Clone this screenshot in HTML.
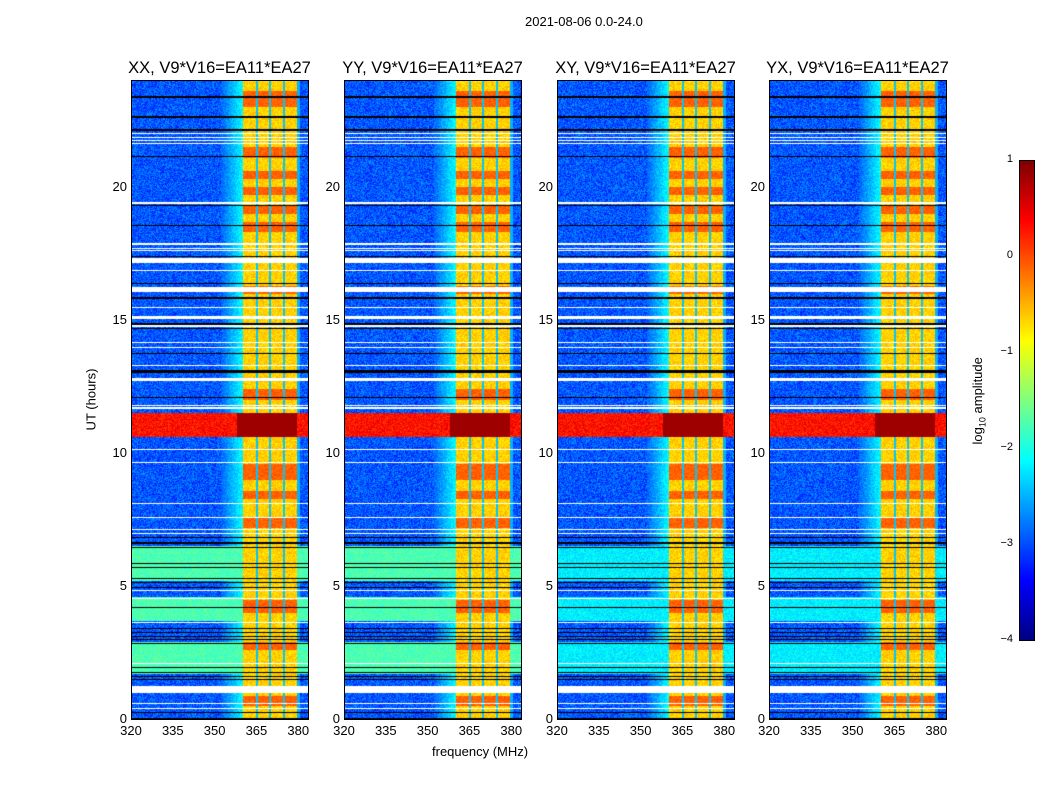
<!DOCTYPE html>
<html><head><meta charset="utf-8">
<style>
body{margin:0;background:#fff;font-family:"Liberation Sans",sans-serif;}
#root{position:relative;width:1050px;height:800px;overflow:hidden;background:#fff}
.t{position:absolute;font-size:13px;color:#000;white-space:nowrap}
canvas{position:absolute}
.frame{position:absolute;border:1px solid #000;box-sizing:border-box}
</style></head><body>
<div id="root">
<div class="t" style="left:525px;top:14px">2021-08-06 0.0-24.0</div>
<div class="t" style="left:432px;top:744px">frequency (MHz)</div>
<div class="t" style="left:60px;top:392px;transform:rotate(-90deg);transform-origin:center">UT (hours)</div>
<div class="t" style="left:935px;top:392px;transform:rotate(-90deg);transform-origin:center">log<sub style="font-size:9px">10</sub> amplitude</div>
</div>
<script>
const panelTitles=["XX, V9*V16=EA11*EA27","YY, V9*V16=EA11*EA27","XY, V9*V16=EA11*EA27","YX, V9*V16=EA11*EA27"];
const xTicks=[320,335,350,365,380];
const yTicks=[0,5,10,15,20];
const cbTicks=[1,0,-1,-2,-3,-4];
const rfiBand=[360,379.3];
const rfiGaps=[364.9,369.6,374.6];
const redBand=[10.6,11.5];
const greenRegions=[[1.7,2.9],[3.7,4.6],[5.2,6.5]];
const greenLevel=[0.45,0.45,0.36,0.36];
const whiteFlags=[[21.98,22.02],[21.83,21.87],[21.74,21.78],[21.63,21.67],[19.38,19.42],[17.84,17.88],[17.68,17.72],[17.58,17.62],[17.15,17.32],[16.86,16.9],[16.06,16.25],[15.44,15.48],[15.05,15.15],[14.76,14.8],[14.13,14.17],[13.94,13.98],[13.26,13.3],[12.72,12.83],[11.76,11.8],[11.68,11.72],[10.11,10.15],[9.62,9.66],[8.08,8.12],[7.56,7.6],[7.11,7.15],[6.96,7.0],[4.82,4.86],[4.52,4.56],[3.62,3.66],[2.08,2.12],[0.98,1.24],[0.58,0.62],[0.39,0.43]];
const blackFlags=[[23.36,23.4],[22.61,22.65],[22.12,22.16],[21.11,21.15],[19.27,19.31],[18.55,18.59],[17.38,17.42],[16.34,16.38],[15.81,15.85],[14.82,14.9],[14.65,14.69],[13.71,13.75],[13.02,13.13],[12.06,12.1],[6.81,6.85],[6.61,6.65],[6.43,6.47],[5.83,5.87],[5.68,5.72],[5.28,5.32],[5.11,5.15],[4.93,4.97],[4.18,4.22],[3.39,3.43],[3.26,3.3],[3.11,3.15],[2.97,3.01],[2.83,2.87],[1.93,1.97],[1.76,1.8],[1.61,1.65],[1.47,1.51],[0.24,0.28],[0.0,0.06]];
const orangeHours=[[23.0,23.6],[21.1,21.5],[20.3,20.6],[19.7,20.0],[19.0,19.3],[18.3,18.7],[16.0,16.3],[12.0,12.4],[9.0,9.6],[8.3,8.6],[7.2,7.6],[4.0,4.5],[2.6,2.9],[0.5,0.9]];

const root=document.getElementById('root');
const PX=[131,344,557,769],PT=80,PW=177,PH=639;
const fMin=320,fMax=383.5,tMax=24;
const xs=f=>(f-fMin)/(fMax-fMin)*PW;
const ys=t=>PH-t/tMax*PH;
function jet(v){v=Math.max(0,Math.min(1,v));
 const r=Math.max(0,Math.min(1,1.5-Math.abs(4*v-3)));
 const g=Math.max(0,Math.min(1,1.5-Math.abs(4*v-2)));
 const b=Math.max(0,Math.min(1,1.5-Math.abs(4*v-1)));
 return [r*255|0,g*255|0,b*255|0];}
function hash(a,b){let h=(a*374761393+b*668265263)|0;h=(h^(h>>>13))*1274126177|0;return ((h^(h>>>16))>>>0)/4294967296;}
const inAny=(t,arr)=>arr.some(r=>t>=r[0]&&t<=r[1]);

PX.forEach((px,p)=>{
 const c=document.createElement('canvas');c.width=PW;c.height=PH;
 c.style.left=px+'px';c.style.top=PT+'px';
 
 
 root.appendChild(c);
 const ctx=c.getContext('2d');const img=ctx.createImageData(PW,PH);
 for(let y=0;y<PH;y++){const t=(PH-y)/PH*tMax;
  const white=inAny(t,whiteFlags),black=inAny(t,blackFlags);
  const orange=inAny(t,orangeHours),red=t>=redBand[0]&&t<=redBand[1];
  let gl=null;greenRegions.forEach(r=>{if(t>=r[0]&&t<=r[1])gl=greenLevel[p];});
  for(let x=0;x<PW;x++){const f=fMin+x/PW*(fMax-fMin);
   const n=hash(x+p*1000,y);let v;
   if(gl!==null)v=gl+(n-0.5)*0.08;else v=0.21+(n-0.5)*0.14;
   if(f>352&&f<rfiBand[0])v=Math.max(v,0.22+(f-352)/8*0.16+(n-0.5)*0.08);
   if(f>=rfiBand[0]&&f<=rfiBand[1]){
    v=0.67+(n-0.5)*0.08;
    if(orange)v=0.78+(n-0.5)*0.06;
    if(rfiGaps.some(g=>Math.abs(f-g)<0.4))v=0.32;
   }
   if(f>rfiBand[1]&&f<rfiBand[1]+1.2)v=Math.max(v,0.3);
   if(red)v=(f>=rfiBand[0]-2&&f<=rfiBand[1])?0.97:0.86+(n-0.5)*0.1;
   let col=jet(v);
   if(white)col=[255,255,255];if(black)col=[0,0,0];
   const i=(y*PW+x)*4;img.data[i]=col[0];img.data[i+1]=col[1];img.data[i+2]=col[2];img.data[i+3]=255;}
 }
 ctx.putImageData(img,0,0);
 const fr=document.createElement('div');fr.className='frame';
 fr.style.cssText=`left:${px}px;top:${PT}px;width:${PW+1}px;height:${PH+1}px`;
 
 
 root.appendChild(fr);
 const ti=document.createElement('div');ti.className='t';ti.textContent=panelTitles[p];
 ti.style.cssText=`left:${px+PW/2}px;top:59px;font-size:16.5px;transform:translateX(-50%)`;
 
 
 root.appendChild(ti);
 xTicks.forEach(v=>{const l=document.createElement('div');l.className='t';l.textContent=v;
  l.style.cssText=`left:${px+xs(v)}px;top:${PT+PH+4}px;transform:translateX(-50%)`;
  
  
  root.appendChild(l);});
 yTicks.forEach(v=>{const l=document.createElement('div');l.className='t';l.textContent=v;
  l.style.cssText=`right:${1050-px+4}px;top:${PT+ys(v)-8}px`;
  
  
  root.appendChild(l);});
});
const CX=1019,CT=160,CW=15,CH=480;
const cb=document.createElement('canvas');cb.width=CW;cb.height=CH;
cb.style.left=CX+'px';cb.style.top=CT+'px';


root.appendChild(cb);
const cctx=cb.getContext('2d');
for(let y=0;y<CH;y++){const c=jet(1-y/CH);cctx.fillStyle=`rgb(${c[0]},${c[1]},${c[2]})`;cctx.fillRect(0,y,CW,1);}
const cf=document.createElement('div');cf.className='frame';
cf.style.cssText=`left:${CX}px;top:${CT}px;width:${CW+1}px;height:${CH+1}px`;


root.appendChild(cf);
cbTicks.forEach(v=>{const l=document.createElement('div');l.className='t';l.textContent=v<0?'\u2212'+(-v):v;
 l.style.cssText=`right:${1050-CX+6}px;top:${CT+(1-v)/5*CH-7}px;font-size:11px`;
 
 
 root.appendChild(l);});
</script>
</body></html>
